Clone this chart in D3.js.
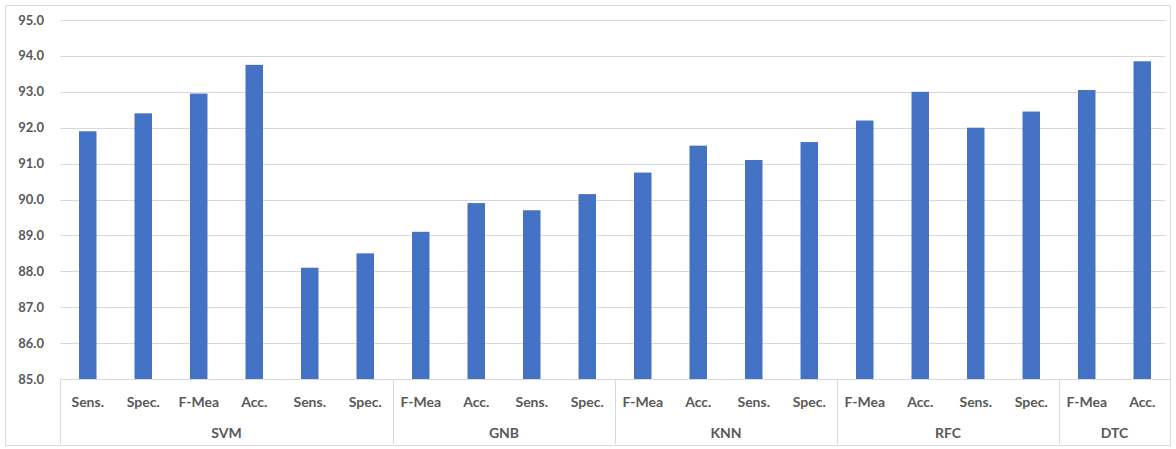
<!DOCTYPE html>
<html>
<head>
<meta charset="utf-8">
<script src="https://cdn.jsdelivr.net/npm/d3@7"></script>
<style>
  html, body { margin: 0; padding: 0; background: #fff; }
  svg text { font-family: Lato, "Open Sans", sans-serif; font-weight: 700; fill: #595959; }
</style>
</head>
<body>
<svg id="chart" width="1176" height="449"></svg>
<script>
// Classifier groups and the metric shown for each bar
const groups = ["SVM", "GNB", "KNN", "RFC", "DTC"];
const groupSizes = [6, 4, 4, 4, 2];
const metrics = [
  "Sens.", "Spec.", "F-Mea", "Acc.", "Sens.", "Spec.",
  "F-Mea", "Acc.", "Sens.", "Spec.",
  "F-Mea", "Acc.", "Sens.", "Spec.",
  "F-Mea", "Acc.", "Sens.", "Spec.",
  "F-Mea", "Acc."
];
const scores = [
  91.9, 92.4, 92.95, 93.75, 88.1, 88.5,
  89.1, 89.9, 89.7, 90.15,
  90.75, 91.5, 91.1, 91.6,
  92.2, 93.0, 92.0, 92.45,
  93.05, 93.85
];
const yTicks = [85, 86, 87, 88, 89, 90, 91, 92, 93, 94, 95];

const svg = d3.select("#chart");
const W = 1176, H = 449;
const plot = { left: 60, right: 1170, top: 20, bottom: 379 };

// outer chart frame
svg.append("rect")
  .attr("x", 5.5).attr("y", 5.5)
  .attr("width", W - 11).attr("height", H - 9)
  .attr("fill", "#fff").attr("stroke", "#d9d9d9");

const idx = d3.range(scores.length);
const x = d3.scaleBand().domain(idx).range([plot.left, plot.right]).paddingInner(0.685).paddingOuter(0.3425);
const y = d3.scaleLinear().domain([85, 95]).range([plot.bottom, plot.top]);

// horizontal gridlines
svg.append("g")
  .selectAll("line")
  .data(yTicks.slice(1))
  .join("line")
  .attr("x1", plot.left).attr("x2", 1165)
  .attr("y1", d => Math.round(y(d)) + 0.5).attr("y2", d => Math.round(y(d)) + 0.5)
  .attr("stroke", "#d9d9d9").attr("stroke-width", 1);

// y tick labels
svg.append("g")
  .selectAll("text")
  .data(yTicks)
  .join("text")
  .attr("x", 44)
  .attr("y", d => y(d))
  .attr("dy", "0.35em")
  .attr("text-anchor", "end")
  .attr("font-size", 13)
  .text(d => d3.format(".1f")(d));

// bars
svg.append("g")
  .selectAll("rect")
  .data(idx)
  .join("rect")
  .attr("x", i => x(i))
  .attr("width", x.bandwidth())
  .attr("y", i => y(scores[i]))
  .attr("height", i => y(85) - y(scores[i]))
  .attr("fill", "#4472c4");

// category axis: baseline, group separators, metric labels, group labels
const axisG = svg.append("g");
axisG.append("line")
  .attr("x1", plot.left).attr("x2", plot.right)
  .attr("y1", plot.bottom + 0.5).attr("y2", plot.bottom + 0.5)
  .attr("stroke", "#d9d9d9");

const step = x.step();
const bounds = [0];
groupSizes.forEach(n => bounds.push(bounds[bounds.length - 1] + n));

axisG.selectAll("line.sep")
  .data(bounds)
  .join("line")
  .attr("class", "sep")
  .attr("x1", b => Math.round(plot.left + b * step) + 0.5)
  .attr("x2", b => Math.round(plot.left + b * step) + 0.5)
  .attr("y1", plot.bottom)
  .attr("y2", 444)
  .attr("stroke", "#d9d9d9");

axisG.selectAll("text.metric")
  .data(idx)
  .join("text")
  .attr("class", "metric")
  .attr("x", i => x(i) + x.bandwidth() / 2)
  .attr("y", 402)
  .attr("dy", "0.35em")
  .attr("text-anchor", "middle")
  .attr("font-size", 14)
  .text(i => metrics[i]);

axisG.selectAll("text.group")
  .data(groups)
  .join("text")
  .attr("class", "group")
  .attr("x", (g, k) => plot.left + (bounds[k] + bounds[k + 1]) / 2 * step)
  .attr("y", 433)
  .attr("dy", "0.35em")
  .attr("text-anchor", "middle")
  .attr("font-size", 14)
  .text(g => g);
</script>
</body>
</html>
